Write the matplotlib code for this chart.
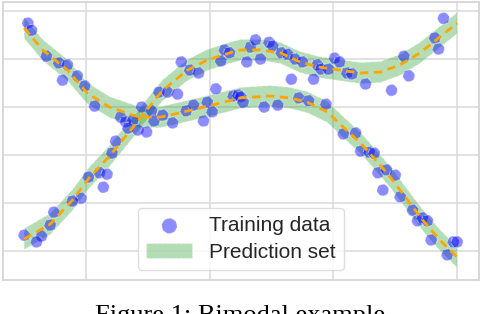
import numpy as np
import matplotlib.pyplot as plt

# training points (x, y) in grid units
train_x = [-0.47, -0.44, -0.32, -0.22, -0.15, -0.07, -0.19, -0.01, 0.07, 0.28,
           0.32, 0.38, 0.34, 0.42, 0.49, 0.45, 0.53, 0.55, 0.62, 0.70,
           0.59, 0.66, 0.74, 0.77, 0.84, 0.91, 0.81, 0.87, 0.95, 0.98,
           1.02, 1.05, 1.09, 1.12, 1.16, 1.19, 1.23, 0.24, 0.21,
           1.25, 1.27, 1.33, 1.37, 1.30, 1.41, 1.48, 1.51, 1.58, 1.63,
           1.69, 1.75, 1.87, 1.90, 1.96, 2.01, 2.05, 2.11, 2.15, 2.26,
           1.66, 1.84, 2.47, 2.57, 2.61, 2.82, 2.85, 2.89, 1.44, 1.55,
           1.72, 1.80, 1.94, 2.08, 2.18, 2.22, 2.29, 2.33,
           0.02, 0.11, 0.17, 0.14, -0.04, -0.11, -0.26, -0.29, -0.36, -0.40, -0.50,
           2.36, 2.43, 2.50, 2.40, 2.54, 2.64, 2.68, 2.72, 2.76, 2.79,
           2.92, 2.97, 3.00]
train_y = [4.75, 4.60, 4.06, 3.92, 3.88, 3.65, 3.56, 3.44, 3.02, 2.79,
           2.69, 2.73, 2.56, 2.52, 2.48, 3.00, 2.92, 2.71, 2.83, 2.67,
           3.31, 3.31, 3.27, 3.94, 3.77, 3.71, 2.92, 3.04, 2.71, 3.10,
           2.90, 3.38, 3.96, 4.19, 4.13, 3.23, 3.25, 2.29, 2.04,
           3.21, 3.10, 4.25, 4.40, 3.94, 4.00, 4.35, 4.27, 4.13, 4.10,
           4.00, 3.94, 3.88, 3.79, 3.79, 4.02, 3.94, 3.71, 3.69, 3.48,
           3.58, 3.58, 3.35, 4.06, 3.65, 4.44, 4.21, 4.85, 3.00, 3.04,
           3.19, 3.13, 3.06, 2.44, 2.46, 2.08, 2.06, 2.04,
           1.54, 1.63, 1.60, 1.33, 1.10, 1.04, 0.81, 0.54, 0.31, 0.19, 0.33,
           1.63, 1.69, 1.58, 1.27, 1.13, 0.85, 0.63, 0.69, 0.63, 0.23,
           -0.08, 0.19, 0.19]

# predicted modes
mode1_x = [-0.50, -0.35, -0.15, 0.01, 0.19, 0.38, 0.44, 0.60, 0.76, 0.92,
           1.08, 1.25, 1.49, 1.65, 1.79, 1.95, 2.08, 2.22, 2.32, 2.46,
           2.60, 2.72, 2.86, 3.00]
mode1_y = [4.65, 4.19, 3.77, 3.29, 3.00, 2.83, 2.79, 2.79, 2.88, 2.98,
           3.08, 3.19, 3.23, 3.19, 3.10, 2.90, 2.58, 2.25, 1.96, 1.54,
           1.06, 0.65, 0.23, -0.13]
mode2_x = [-0.50, -0.29, -0.11, 0.03, 0.19, 0.38, 0.49, 0.62, 0.82, 0.98,
           1.16, 1.25, 1.41, 1.57, 1.73, 1.89, 2.05, 2.22, 2.38, 2.54,
           2.70, 2.86, 3.00]
mode2_y = [0.25, 0.56, 1.06, 1.54, 1.98, 2.58, 2.94, 3.35, 3.77, 3.98,
           4.13, 4.19, 4.19, 4.13, 3.94, 3.83, 3.77, 3.71, 3.73, 3.88,
           4.13, 4.46, 4.75]
half_width = 0.22

fig = plt.figure(figsize=(4.8, 3.14), dpi=100)
ax = fig.add_axes([3 / 480, 1 - 280 / 314, 476 / 480, 278 / 314])

for i, (mx, my) in enumerate([(mode1_x, mode1_y), (mode2_x, mode2_y)]):
    mx = np.array(mx)
    my = np.array(my)
    ax.fill_between(mx, my - half_width, my + half_width, color='tab:green',
                    alpha=0.35, edgecolor='white', linestyle='--', linewidth=0.8,
                    label='Prediction set' if i == 0 else None, zorder=2)
    ax.plot(mx, my, color='orange', lw=2, dashes=(3, 2), zorder=4)

ax.scatter(train_x, train_y, s=72, color='blue', alpha=0.45, edgecolors='white',
           linestyle='--', linewidths=0.8, label='Training data', zorder=3)

ax.set_xlim(-0.671, 3.177)
ax.set_ylim(-0.604, 5.19)
ax.set_xticks([0, 1, 2, 3])
ax.set_yticks([0, 1, 2, 3, 4, 5])
ax.tick_params(length=0, labelbottom=False, labelleft=False)
ax.grid(True, color='#dddddd', lw=1.2, zorder=0)
ax.set_axisbelow(True)
for sp in ax.spines.values():
    sp.set_color('#d6d6d6')
    sp.set_linewidth(1.3)

handles, labels = ax.get_legend_handles_labels()
leg = ax.legend(handles[::-1], labels[::-1], loc='lower center',
                bbox_to_anchor=(0.5, 0.036), borderaxespad=0, markerscale=1.3,
                prop={'family': 'Liberation Sans', 'size': 15}, framealpha=0.8,
                edgecolor='#d6d6d6', fancybox=True, handlelength=2.2,
                labelspacing=0.35, borderpad=0.4)
for t in leg.get_texts():
    t.set_color('#262626')

fig.text(0.5, -8 / 314, 'Figure 1: Bimodal example', ha='center', va='baseline',
         family='Liberation Serif', fontsize=19)

fig.savefig('out.png', dpi=100)
